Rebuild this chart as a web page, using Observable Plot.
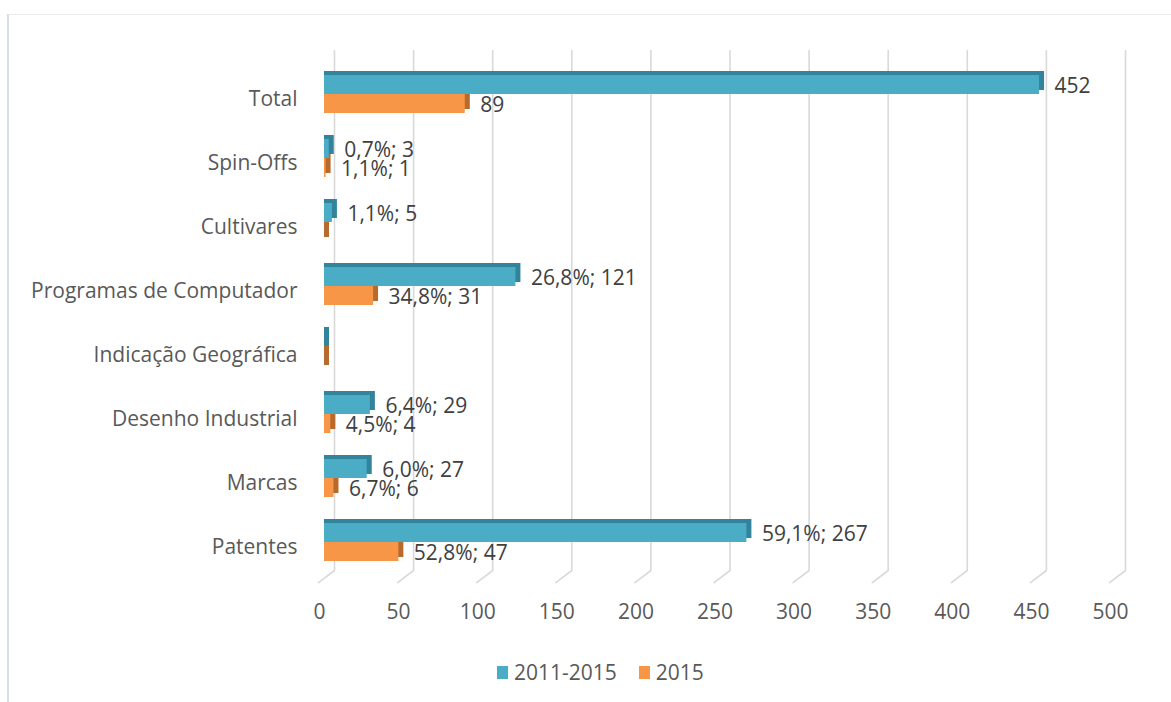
<!DOCTYPE html>
<html>
<head>
<meta charset="utf-8">
<script src="https://cdn.jsdelivr.net/npm/d3@7"></script>
<script src="https://cdn.jsdelivr.net/npm/@observablehq/plot@0.6"></script>
<style>
  html, body { margin: 0; padding: 0; background: #fff; }
  #wrap { position: relative; width: 1171px; height: 702px; overflow: hidden; font-family: "Open Sans", sans-serif; }
  #frame { position: absolute; left: 7px; top: 14px; width: 1170px; height: 700px; border-top: 1px solid #ebebeb; border-left: 2px solid #d3ddeb; box-sizing: border-box; }
  #chart { position: absolute; left: 0; top: 0; }
  #legend { position: absolute; top: 658px; left: 497px; display: flex; align-items: center; font-size: 21px; color: #595959; }
  #legend .sw { display: inline-block; width: 11px; height: 13px; margin-right: 6px; }
  #legend .item { display: flex; align-items: center; margin-right: 22px; }
</style>
</head>
<body>
<div id="wrap">
  <div id="frame"></div>
  <div id="chart"></div>
  <div id="legend"></div>
</div>
<script>
const categories = ["Total", "Spin-Offs", "Cultivares", "Programas de Computador", "Indicação Geográfica", "Desenho Industrial", "Marcas", "Patentes"];
const seriesNames = ["2011-2015", "2015"];
const values2011_2015 = [452, 3, 5, 121, 0, 29, 27, 267];
const values2015 = [89, 1, 0, 31, 0, 4, 6, 47];
const labels2011_2015 = ["452", "0,7%; 3", "1,1%; 5", "26,8%; 121", "", "6,4%; 29", "6,0%; 27", "59,1%; 267"];
const labels2015 = ["89", "1,1%; 1", "", "34,8%; 31", "", "4,5%; 4", "6,7%; 6", "52,8%; 47"];
const xTicks = [0, 50, 100, 150, 200, 250, 300, 350, 400, 450, 500];

const colors = {front: ["#4bacc6", "#f79646"], dark: ["#31849b", "#b8692c"]};

const rowsA = categories.map((c, i) => ({cat: c, v: values2011_2015[i], label: labels2011_2015[i]}));
const rowsB = categories.map((c, i) => ({cat: c, v: values2015[i], label: labels2015[i]}));

const half = 19;
const fontSize = 21;

const chart = Plot.plot({
  width: 1171,
  height: 640,
  marginLeft: 324,
  marginRight: 56,
  marginTop: 45,
  marginBottom: 50,
  style: {fontFamily: "'Open Sans', sans-serif", fontSize: fontSize + "px", color: "#595959", background: "transparent"},
  x: {domain: [0, 500], axis: null},
  y: {domain: categories, padding: 0.413, axis: null},
  marks: [
    // back-wall gridlines
    Plot.ruleX(xTicks, {x: d => d, dx: 10, insetTop: 5, insetBottom: 20, stroke: "#d9d9d9", strokeWidth: 1.6}),
    // floor diagonals
    Plot.vector(xTicks, {
      x: d => d, frameAnchor: "bottom", dx: 10, dy: -20, length: 20, rotate: 233, anchor: "start",
      stroke: "#d9d9d9", strokeWidth: 1.6,
      shape: {draw(context, l) { context.moveTo(0, 0); context.lineTo(0, -l); }}
    }),
    // depth faces (darker extrusion)
    Plot.barX(rowsA, {x: "v", y: "cat", fill: colors.dark[0], insetBottom: half, insetRight: -5, dy: -4}),
    Plot.barX(rowsB, {x: "v", y: "cat", fill: colors.dark[1], insetTop: half, insetRight: -5, dy: -4}),
    // front faces
    Plot.barX(rowsB, {x: "v", y: "cat", fill: colors.front[1], insetTop: half}),
    Plot.barX(rowsA, {x: "v", y: "cat", fill: colors.front[0], insetBottom: half}),
    // data labels
    Plot.text(rowsA, {x: "v", y: "cat", text: "label", dx: 15, dy: -8, textAnchor: "start", fill: "#404040", fontSize}),
    Plot.text(rowsB, {x: "v", y: "cat", text: "label", dx: 15, dy: 11, textAnchor: "start", fill: "#404040", fontSize}),
    // axes
    Plot.axisY({tickSize: 0, tickPadding: 27, dy: 5, fill: "#595959", fontSize, label: null}),
    Plot.axisX({ticks: xTicks, tickSize: 0, tickPadding: 14, dx: -5, fill: "#595959", fontSize, label: null, tickFormat: d => String(d)})
  ]
});
document.getElementById("chart").appendChild(chart);

const legend = document.getElementById("legend");
seriesNames.forEach((name, i) => {
  const item = document.createElement("span");
  item.className = "item";
  const sw = document.createElement("span");
  sw.className = "sw";
  sw.style.background = colors.front[i];
  item.appendChild(sw);
  item.appendChild(document.createTextNode(name));
  legend.appendChild(item);
});
</script>
</body>
</html>
